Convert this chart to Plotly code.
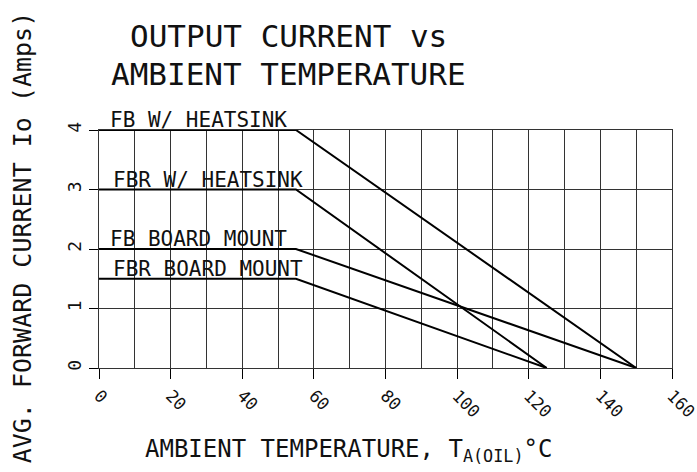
import plotly.graph_objects as go

# Data
series_names = ["FB W/ HEATSINK", "FBR W/ HEATSINK", "FB BOARD MOUNT", "FBR BOARD MOUNT"]
temps = [[0, 55, 150], [0, 55, 125], [0, 55, 150], [0, 55, 125]]
currents = [[4, 4, 0], [3, 3, 0], [2, 2, 0], [1.5, 1.5, 0]]
label_x = [2.6, 3.4, 2.6, 3.4]
x_ticks = [0, 20, 40, 60, 80, 100, 120, 140, 160]
y_ticks = [0, 1, 2, 3, 4]

FONT = "DejaVu Sans Mono"
TXT = "#111"

fig = go.Figure()
for name, xs, ys in zip(series_names, temps, currents):
    fig.add_trace(go.Scatter(x=xs, y=ys, mode="lines", name=name,
                             line=dict(color="black", width=2), showlegend=False,
                             hoverinfo="skip"))

annotations = []
for name, lx, ys in zip(series_names, label_x, currents):
    annotations.append(dict(x=lx, y=ys[0], xref="x", yref="y", text=name,
                            xanchor="left", yanchor="bottom", showarrow=False,
                            yshift=-4, font=dict(family=FONT, size=21, color=TXT)))

# Title
annotations.append(dict(x=0.33, y=1.393, xref="paper", yref="paper", text="OUTPUT CURRENT vs",
                        showarrow=False, xanchor="center", yanchor="middle",
                        font=dict(family=FONT, size=31, color=TXT)))
annotations.append(dict(x=0.33, y=1.237, xref="paper", yref="paper", text="AMBIENT TEMPERATURE",
                        showarrow=False, xanchor="center", yanchor="middle",
                        font=dict(family=FONT, size=31, color=TXT)))
# Axis titles
annotations.append(dict(x=-0.134, y=0.55, xref="paper", yref="paper",
                        text="AVG. FORWARD CURRENT Io (Amps)", textangle=-90,
                        showarrow=False, xanchor="center", yanchor="middle",
                        font=dict(family=FONT, size=25, color=TXT)))
annotations.append(dict(x=0.436, y=-0.345, xref="paper", yref="paper",
                        text="AMBIENT TEMPERATURE, T<sub>A(OIL)</sub>°C",
                        showarrow=False, xanchor="center", yanchor="middle",
                        font=dict(family=FONT, size=24, color=TXT)))

fig.update_layout(
    width=697, height=472,
    margin=dict(l=99, r=25, t=130, b=104),
    paper_bgcolor="white", plot_bgcolor="white",
    annotations=annotations,
    xaxis=dict(range=[0, 160], tickvals=x_ticks, ticktext=[str(v) for v in x_ticks],
               tickangle=45, ticks="outside", ticklen=10, tickcolor="black", tickwidth=1,
               showgrid=True, gridcolor="#333", gridwidth=1, automargin=False,
               ticklabeloverflow="allow",
               minor=dict(dtick=10, showgrid=True, gridcolor="#333", gridwidth=1, ticks=""),
               showline=True, linecolor="#333", linewidth=1, mirror=True, zeroline=False,
               tickfont=dict(family=FONT, size=17, color=TXT)),
    yaxis=dict(range=[0, 4], tickvals=y_ticks, ticks="outside", ticklen=9, tickcolor="black",
               tickangle=-90, showgrid=True, gridcolor="#333", gridwidth=1, automargin=False,
               ticklabelstandoff=1,
               showline=True, linecolor="#333", linewidth=1, mirror=True, zeroline=False,
               tickfont=dict(family=FONT, size=18, color=TXT)),
)

# Remove the default page margin so the figure fills the window exactly.
fig.write_html("out.html", config={"displayModeBar": False},
               post_script="document.body.style.margin='0';document.body.style.overflow='hidden';")
